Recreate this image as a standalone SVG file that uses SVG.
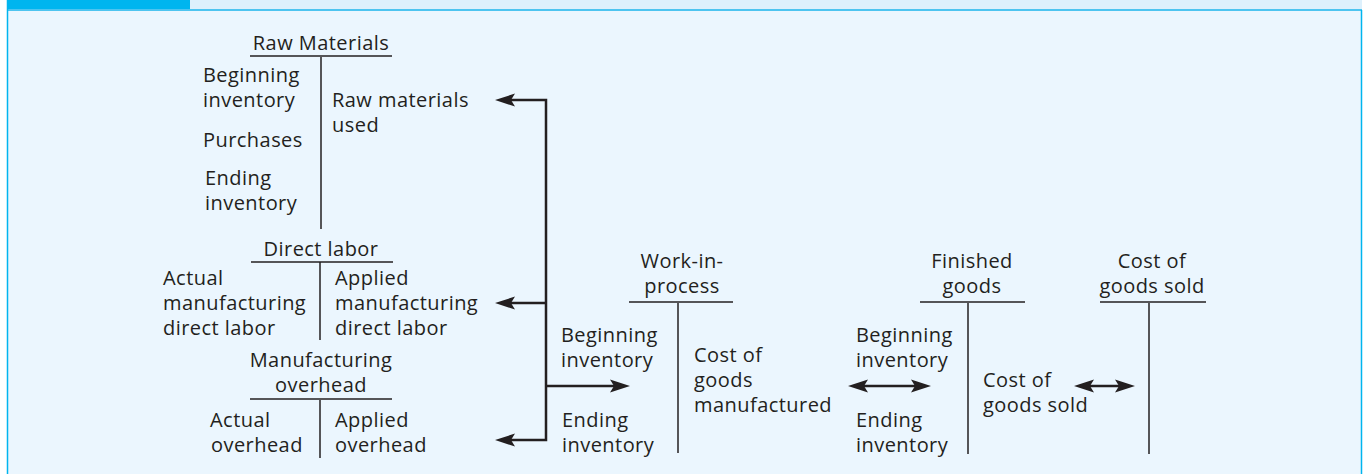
<svg xmlns="http://www.w3.org/2000/svg" width="1365" height="474" viewBox="0 0 1365 474">
<style>
text{font-family:"Open Sans","Noto Sans","DejaVu Sans",sans-serif;font-size:20px;letter-spacing:0.45px;fill:#231f20}
.c{text-anchor:middle}
.t{stroke:#231f20;stroke-width:1.5;fill:none}
.a{stroke:#231f20;stroke-width:2.5;fill:none}
</style>
<defs>
<marker id="ah" viewBox="0 -7 20 14" markerWidth="20" markerHeight="14" refX="10" refY="0" orient="auto-start-reverse" markerUnits="userSpaceOnUse">
<path d="M0,-6.5 L20,0 L0,6.5 L4,0 Z" fill="#231f20"/>
</marker>
</defs>
<g id="frame">
<rect x="0" y="0" width="1365" height="474" fill="#ffffff"/>
<rect x="7" y="0" width="1355" height="474" fill="#ebf6fe"/>
<rect x="190" y="0" width="1172" height="10" fill="#ddf0fc"/>
<rect x="7" y="0" width="183" height="10" fill="#00b5ef"/>
<line x1="7" y1="10" x2="1362" y2="10" stroke="#4dc4f0" stroke-width="2"/>
<line x1="7.5" y1="0" x2="7.5" y2="474" stroke="#00b5ef" stroke-width="1.5"/>
<line x1="1361.5" y1="10" x2="1361.5" y2="474" stroke="#00b5ef" stroke-width="1.5"/>
</g>
<g id="raw-materials">
<text class="c" x="321" y="50">Raw Materials</text>
<line class="t" x1="250" y1="56" x2="392" y2="56"/>
<line class="t" x1="321" y1="57" x2="321" y2="229"/>
<text x="203" y="82">Beginning</text>
<text x="203" y="107">inventory</text>
<text x="203" y="147">Purchases</text>
<text x="205" y="185">Ending</text>
<text x="205" y="210">inventory</text>
<text x="332" y="107">Raw materials</text>
<text x="332" y="132">used</text>
</g>
<g id="direct-labor">
<text class="c" x="321" y="256">Direct labor</text>
<line class="t" x1="251" y1="262" x2="393" y2="262"/>
<line class="t" x1="320" y1="262" x2="320" y2="340"/>
<text x="163" y="285">Actual</text>
<text x="163" y="310">manufacturing</text>
<text x="163" y="335">direct labor</text>
<text x="335" y="285">Applied</text>
<text x="335" y="310">manufacturing</text>
<text x="335" y="335">direct labor</text>
</g>
<g id="manufacturing-overhead">
<text class="c" x="321" y="367">Manufacturing</text>
<text class="c" x="321" y="392">overhead</text>
<line class="t" x1="250" y1="399" x2="392" y2="399"/>
<line class="t" x1="320" y1="400" x2="320" y2="458"/>
<text x="210" y="427">Actual</text>
<text x="211" y="452">overhead</text>
<text x="335" y="427">Applied</text>
<text x="335" y="452">overhead</text>
</g>
<g id="work-in-process">
<text class="c" x="682" y="268">Work-in-</text>
<text class="c" x="682" y="293">process</text>
<line class="t" x1="629" y1="302" x2="733" y2="302"/>
<line class="t" x1="678" y1="303" x2="678" y2="453"/>
<text x="561" y="342">Beginning</text>
<text x="561" y="367">inventory</text>
<text x="562" y="427">Ending</text>
<text x="562" y="452">inventory</text>
<text x="694" y="362">Cost of</text>
<text x="694" y="387">goods</text>
<text x="694" y="412">manufactured</text>
</g>
<g id="finished-goods">
<text class="c" x="972" y="268">Finished</text>
<text class="c" x="972" y="293">goods</text>
<line class="t" x1="920" y1="302" x2="1025" y2="302"/>
<line class="t" x1="968" y1="303" x2="968" y2="454"/>
<text x="856" y="342">Beginning</text>
<text x="856" y="367">inventory</text>
<text x="856" y="427">Ending</text>
<text x="856" y="452">inventory</text>
<text x="983" y="387">Cost of</text>
<text x="983" y="412">goods sold</text>
</g>
<g id="cost-of-goods-sold">
<text class="c" x="1152" y="268">Cost of</text>
<text class="c" x="1152" y="293">goods sold</text>
<line class="t" x1="1100" y1="302" x2="1206" y2="302"/>
<line class="t" x1="1149" y1="303" x2="1149" y2="454"/>
</g>
<g id="connectors">
<path class="a" d="M505,100 H546 V440 H505" marker-start="url(#ah)" marker-end="url(#ah)"/>
<path class="a" d="M505,303 H546" marker-start="url(#ah)"/>
<path class="a" d="M546,386 H620" marker-end="url(#ah)"/>
<path class="a" d="M858,386 H921" marker-start="url(#ah)" marker-end="url(#ah)"/>
<path class="a" d="M1084,386 H1125" marker-start="url(#ah)" marker-end="url(#ah)"/>
</g>
</svg>
